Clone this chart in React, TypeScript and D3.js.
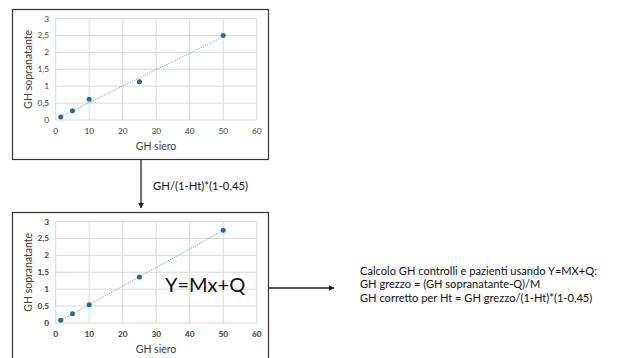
import React from 'react';
import * as d3 from 'd3';

// values
const serumGH = [1.5, 5, 10, 25, 50];
const supernatantRaw = [0.09, 0.27, 0.61, 1.13, 2.5];
const supernatantCorrected = [0.08, 0.27, 0.54, 1.36, 2.74];
const xTicks = [0, 10, 20, 30, 40, 50, 60];
const yTicks = [0, 0.5, 1, 1.5, 2, 2.5, 3];

const FONT = 'Lato, "Open Sans", sans-serif';
const fmt = (v: number) => String(v).replace('.', ',');

const fitLine = (xs: number[], ys: number[]) => {
  const mx = d3.mean(xs) as number;
  const my = d3.mean(ys) as number;
  const sxy = d3.sum(xs, (x, i) => (x - mx) * (ys[i] - my));
  const sxx = d3.sum(xs, x => (x - mx) * (x - mx));
  const m = sxy / sxx;
  return { m, q: my - m * mx };
};

const Chart = ({ top, ys, bold }: { top: number; ys: number[]; bold?: boolean }) => {
  const x = d3.scaleLinear().domain([0, 60]).range([55.7, 256.7]);
  const y = d3.scaleLinear().domain([0, 3]).range([top + 102, top + 0.5]);
  const { m, q } = fitLine(serumGH, ys);
  const x0 = d3.min(serumGH) as number;
  const x1 = d3.max(serumGH) as number;
  const tickW = bold ? 700 : 400;

  return (
    <g>
      {xTicks.map(t => (
        <line key={'vx' + t} x1={x(t)} x2={x(t)} y1={y(0)} y2={y(3)} stroke="#d9d9d9" strokeWidth={1} />
      ))}
      {yTicks.map(t => (
        <line key={'hy' + t} x1={x(0)} x2={x(60)} y1={y(t)} y2={y(t)} stroke="#d9d9d9" strokeWidth={1} />
      ))}
      <line x1={x(x0)} x2={x(x1)} y1={y(m * x0 + q)} y2={y(m * x1 + q)}
        stroke="#6fa6dc" strokeWidth={1} strokeDasharray="1.2 1.2" />
      {serumGH.map((v, i) => (
        <circle key={i} cx={x(v)} cy={y(ys[i])} r={2.5} fill="#1f66b8" />
      ))}
      {xTicks.map(t => (
        <text key={'tx' + t} x={x(t)} y={y(0) + 14} textAnchor="middle" fontSize={8.3}
          fontWeight={tickW} fill="#404040" fontFamily={FONT}>{t}</text>
      ))}
      {yTicks.map(t => (
        <text key={'ty' + t} x={49} y={y(t) + 3} textAnchor="end" fontSize={8.3}
          fontWeight={tickW} fill="#404040" fontFamily={FONT}>{fmt(t)}</text>
      ))}
      <text x={156} y={y(0) + 30} textAnchor="middle" fontSize={10.5} fill="#404040" fontFamily={FONT}>GH siero</text>
      <text transform={`translate(32,${(y(0) + y(3)) / 2}) rotate(-90)`} textAnchor="middle" fontSize={10.5}
        fill="#404040" fontFamily={FONT}>GH sopranatante</text>
    </g>
  );
};

export default function App() {
  return (
    <div style={{ position: 'absolute', left: 0, top: 0 }}>
      <svg width={624} height={358} style={{ display: 'block', background: '#fff' }}>
        <defs>
          <marker id="head" viewBox="0 0 10 10" refX={9} refY={5} markerWidth={4.5} markerHeight={4.5} orient="auto">
            <path d="M0,0 L10,5 L0,10 z" fill="#222" />
          </marker>
        </defs>
        <rect x={12.5} y={9.5} width={256} height={150} fill="#fff" stroke="#333" strokeWidth={1.2} />
        <rect x={12.5} y={212.5} width={256} height={160} fill="#fff" stroke="#333" strokeWidth={1.2} />
        <Chart top={18} ys={supernatantRaw} />
        <Chart top={221} ys={supernatantCorrected} bold />
        <line x1={141} x2={141} y1={160} y2={208} stroke="#222" strokeWidth={1.3} markerEnd="url(#head)" />
        <text x={153} y={190} fontSize={11.3} fill="#111" fontFamily={FONT}>GH/(1-Ht)*(1-0,45)</text>
        <text x={165} y={292} fontSize={20} fill="#111" fontFamily={FONT}>Y=Mx+Q</text>
        <line x1={269} x2={334} y1={288} y2={288} stroke="#222" strokeWidth={1.3} markerEnd="url(#head)" />
        <text fontSize={11.1} fill="#111" fontFamily={FONT}>
          <tspan x={360} y={275}>Calcolo GH controlli e pazienti usando Y=MX+Q:</tspan>
          <tspan x={360} y={288.3}>GH grezzo = (GH sopranatante-Q)/M</tspan>
          <tspan x={360} y={301.7}>GH corretto per Ht = GH grezzo/(1-Ht)*(1-0,45)</tspan>
        </text>
      </svg>
    </div>
  );
}
